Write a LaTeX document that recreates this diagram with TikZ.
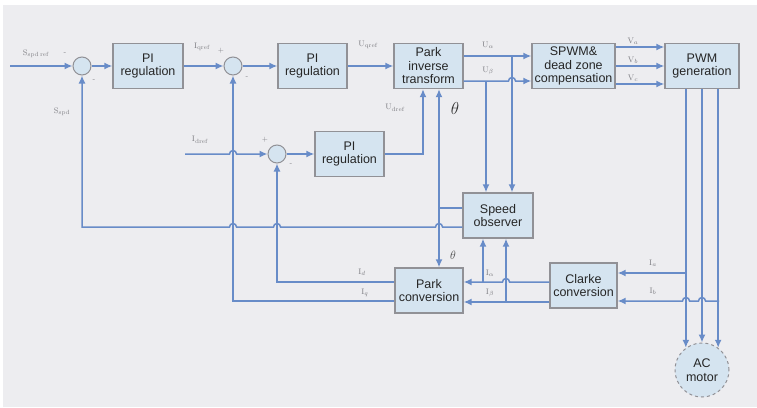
\documentclass[tikz,border=0pt]{standalone}
\usepackage{fontspec}
\newfontfamily\boxfont{Liberation Sans}
\usetikzlibrary{arrows.meta,calc}
\definecolor{wirecol}{RGB}{104,140,200}
\definecolor{boxfill}{RGB}{213,228,240}
\definecolor{boxline}{RGB}{145,145,150}
\definecolor{paper}{RGB}{237,237,240}
\definecolor{tagcol}{RGB}{125,125,130}
\tikzset{
  block/.style={draw=boxline,line width=1.3pt,fill=boxfill,align=center,inner sep=1pt,
    minimum height=45pt,text=black!85,font=\boxfont\fontsize{12.5}{13.5}\selectfont},
  sum/.style={circle,draw=boxline,line width=1pt,fill=boxfill,minimum size=18pt,inner sep=0pt},
  link/.style={line width=1.5pt,wirecol},
  sig/.style={link,-{Latex[length=8pt,width=7pt]}},
  tag/.style={text=tagcol,inner sep=0pt,font=\fontsize{8}{8}\selectfont},
  pm/.style={text=tagcol,inner sep=0pt,font=\fontsize{7}{7}\selectfont}
}

\begin{document}
\begin{tikzpicture}[x=1pt,y=-1pt]
    \useasboundingbox (0,0) rectangle (757,407);
    \fill[white] (0,0) rectangle (757,407);
    \fill[paper] (3,5) rectangle (757,407);

    \node[block,minimum width=70pt] (pi1) at (148,66) {PI\\regulation};
    \node[block,minimum width=69pt] (pi2) at (312.5,66) {PI\\regulation};
    \node[block,minimum width=69pt] (pinv) at (428.5,66) {Park\\inverse\\transform};
    \node[block,minimum width=83pt] (spwm) at (573.5,66) {SPWM\&\\dead zone\\compensation};
    \node[block,minimum width=74pt] (pwm) at (702,66) {PWM\\generation};
    \node[block,minimum width=69pt] (pi3) at (349.5,154) {PI\\regulation};
    \node[block,minimum width=70pt] (spd) at (498,215.5) {Speed\\observer};
    \node[block,minimum width=68pt] (pconv) at (429,290.5) {Park\\conversion};
    \node[block,minimum width=67pt] (clarke) at (583.5,285.5) {Clarke\\conversion};
    \node[sum] (s1) at (82,66) {};
    \node[sum] (s2) at (233,66) {};
    \node[sum] (s3) at (277,154) {};
    \node[circle,draw=boxline,dashed,line width=1pt,fill=boxfill,minimum size=54pt,inner sep=0pt,
      align=center,text=black!85,font=\boxfont\fontsize{12.5}{13.5}\selectfont] (motor) at (702,370) {AC\\motor};

    \coordinate (in) at (10,66);
    \coordinate (idin) at (185,154);
    \coordinate (ja) at (512,56);
    \coordinate (jb) at (486,81);
    \coordinate (th) at (439,208);
    \coordinate (ud) at (423,154);
    \coordinate (fb) at (82,227);
    \coordinate (iq) at (233,301);
    \coordinate (idd) at (277,282);
    \coordinate (ia) at (483,282);
    \coordinate (ib) at (506,302);
    \coordinate (pa) at (686,273);
    \coordinate (pc) at (719,301);

    \draw[sig] (in) -- (s1);
    \draw[sig] (s1) -- (pi1);
    \draw[sig] (pi1) -- (s2);
    \draw[sig] (s2) -- (pi2);
    \draw[sig] (pi2) -- (pinv);
    \draw[sig] (pinv.east |- ja) -- (spwm.west |- ja);
    \draw[sig] (pinv.east |- jb) -- (508.5,81) arc[start angle=180,end angle=0,radius=3.5pt] -- (spwm.west |- jb);
    \draw[sig] (ja) -- (ja |- spd.north);
    \draw[sig] (jb) -- (jb |- spd.north);
    \foreach \y/\v in {47/a,66/b,84/c} {
      \draw[sig] (spwm.east |- 0,\y) -- (pwm.west |- 0,\y);
      \node[tag] (v\v) at (633,\y-6) {V$_\v$};
    }
    \draw[sig] (pwm.south -| motor.126) -- (motor.126);
    \draw[sig] (pwm.south) -- (motor.north);
    \draw[sig] (pwm.south -| motor.54) -- (motor.54);

    \draw[sig] (pa) -- (clarke.east |- pa);
    \draw[sig] (pc) -- (705.5,301) arc[start angle=0,end angle=180,radius=3.5pt]
      -- (689.5,301) arc[start angle=0,end angle=180,radius=3.5pt] -- (clarke.east |- pc);
    \draw[sig] (clarke.west |- ia) -- (509.5,282) arc[start angle=0,end angle=180,radius=3.5pt]
      -- (ia) -- (pconv.east |- ia);
    \draw[sig] (clarke.west |- ib) -- (ib) -- (pconv.east |- ib);
    \draw[sig] (ia) -- (ia |- spd.south);
    \draw[sig] (ib) -- (ib |- spd.south);

    \draw[link] (spd.west |- th) -- (th);
    \draw[sig] (th) -- (th |- pinv.south);
    \draw[sig] (th) -- (th |- pconv.north);
    \draw[sig] (spd.west |- fb) -- (442.5,227) arc[start angle=0,end angle=180,radius=3.5pt]
      -- (280.5,227) arc[start angle=0,end angle=180,radius=3.5pt]
      -- (236.5,227) arc[start angle=0,end angle=180,radius=3.5pt] -- (fb) -- (s1);

    \draw[sig] (idin) -- (229.5,154) arc[start angle=180,end angle=0,radius=3.5pt] -- (s3);
    \draw[sig] (s3) -- (pi3);
    \draw[sig] (pi3) -- (ud) -- (ud |- pinv.south);
    \draw[sig] (pconv.west |- idd) -- (idd) -- (s3);
    \draw[sig] (pconv.west |- iq) -- (iq) -- (s2);

    \node[tag] (lsref) at (36,54) {S$_{\mathrm{spd\,ref}}$};
    \node[tag] (lspd) at (62,112) {S$_{\mathrm{spd}}$};
    \node[tag] (liqref) at (202,47) {I$_{\mathrm{qref}}$};
    \node[tag] (luqref) at (368,45) {U$_{\mathrm{qref}}$};
    \node[tag] (lua) at (488,45) {U$_\alpha$};
    \node[tag] (lub) at (488,71) {U$_\beta$};
    \node[tag] (ludref) at (395,108) {U$_{\mathrm{dref}}$};
    \node[tag] (lidref) at (200,140) {I$_{\mathrm{dref}}$};
    \node[tag] (lid) at (362,272) {I$_d$};
    \node[tag] (liq) at (365,293) {I$_q$};
    \node[tag] (lia) at (490,273) {I$_\alpha$};
    \node[tag] (lib) at (490,293) {I$_\beta$};
    \node[tag] (lica) at (653,263) {I$_a$};
    \node[tag] (licb) at (653,291) {I$_b$};
    \node[text=black!80,inner sep=0pt,font=\fontsize{19}{19}\selectfont] (thbig) at (455,108) {$\theta$};
    \node[text=black!70,inner sep=0pt,font=\fontsize{12}{12}\selectfont] (thsmall) at (453,255) {$\theta$};

    \node[pm] (m1a) at (65,54) {-};
    \node[pm] (m1b) at (94,81) {-};
    \node[pm] (p2a) at (221,51) {+};
    \node[pm] (m2b) at (247,78) {-};
    \node[pm] (p3a) at (265,140) {+};
    \node[pm] (m3b) at (291,165) {-};
\end{tikzpicture}
\end{document}
